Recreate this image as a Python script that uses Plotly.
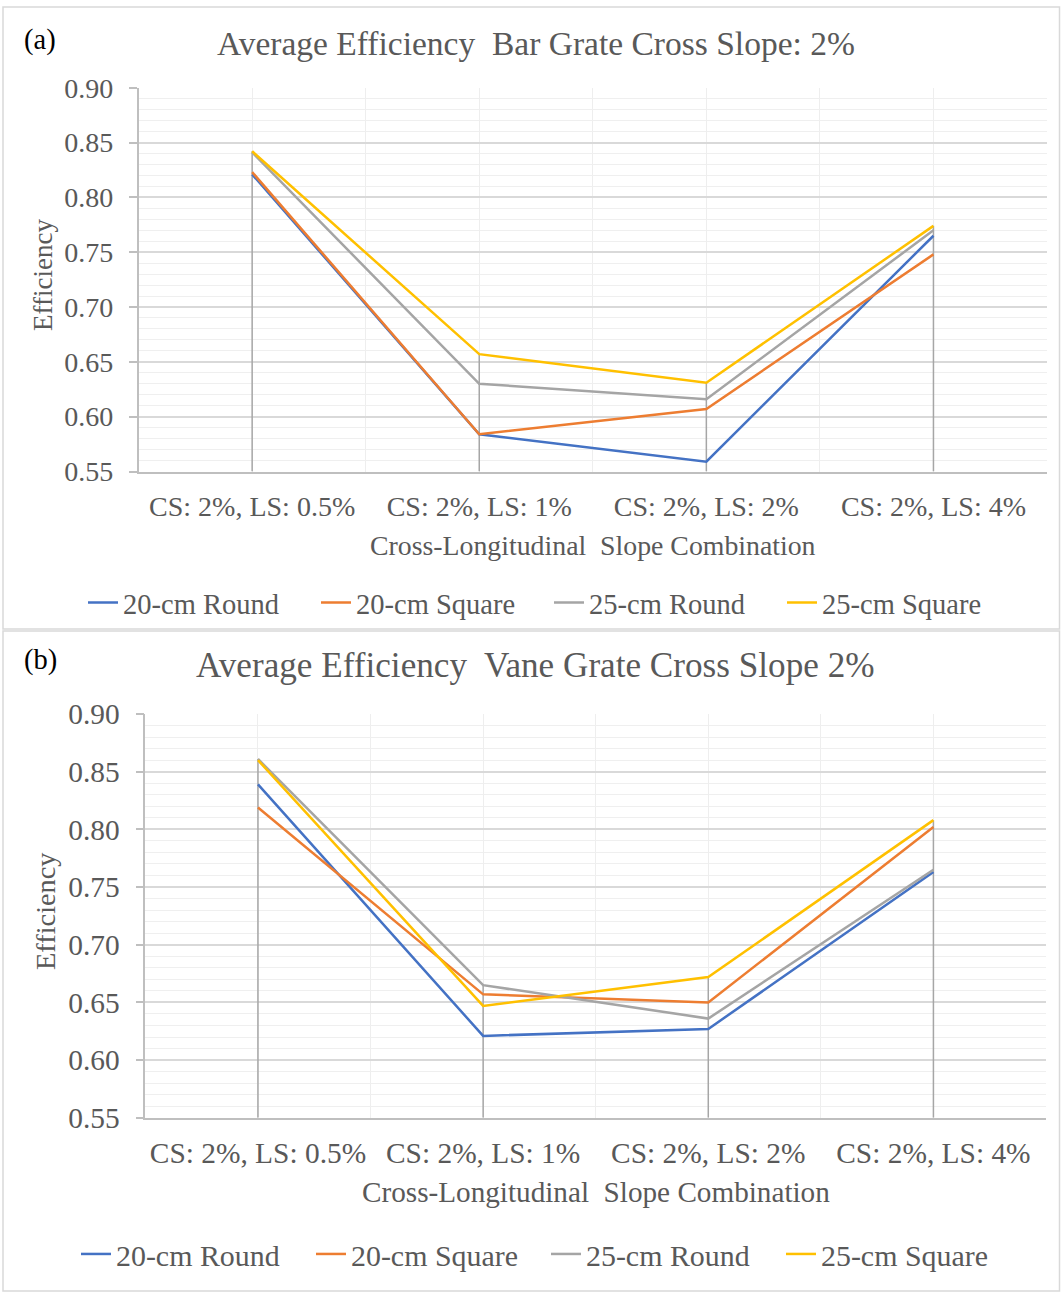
import plotly.graph_objects as go

W, H = 1061, 1294

categories = ["CS: 2%, LS: 0.5%", "CS: 2%, LS: 1%", "CS: 2%, LS: 2%", "CS: 2%, LS: 4%"]
series_names = ["20-cm Round", "20-cm Square", "25-cm Round", "25-cm Square"]
series_colors = ["#4472C4", "#ED7D31", "#A5A5A5", "#FFC000"]

# Panel (a): Bar grate
bar_round20 = [0.821, 0.584, 0.559, 0.765]
bar_square20 = [0.823, 0.584, 0.607, 0.748]
bar_round25 = [0.841, 0.630, 0.616, 0.770]
bar_square25 = [0.842, 0.657, 0.631, 0.774]

# Panel (b): Vane grate
vane_round20 = [0.839, 0.621, 0.627, 0.763]
vane_square20 = [0.819, 0.657, 0.650, 0.802]
vane_round25 = [0.861, 0.665, 0.636, 0.765]
vane_square25 = [0.860, 0.647, 0.672, 0.808]

y_ticks = [0.55, 0.60, 0.65, 0.70, 0.75, 0.80, 0.85, 0.90]

panels = [
    dict(data=[bar_round20, bar_square20, bar_round25, bar_square25],
         title="Average Efficiency  Bar Grate Cross Slope: 2%", tag="(a)",
         px=(138.6, 1047), py=(87.7, 471.5), xa="x", ya="y", legend="legend", s=1.0,
         title_y=43, tag_y=40, ytitle=(43, 275), xtitle=(593, 545), leg=(83, 603),
         box=(7, 629), entry=188, xstand=9),
    dict(data=[vane_round20, vane_square20, vane_round25, vane_square25],
         title="Average Efficiency  Vane Grate Cross Slope 2%", tag="(b)",
         px=(145.4, 1046), py=(714, 1117.8), xa="x2", ya="y2", legend="legend2", s=1.05,
         title_y=665, tag_y=660, ytitle=(45, 911), xtitle=(596, 1192), leg=(76, 1254),
         box=(631, 1291), entry=190, xstand=8),
]

FONT = "Liberation Serif"
TXT = "#595959"

fig = go.Figure()
layout = dict(width=W, height=H, margin=dict(l=0, r=0, t=0, b=0, autoexpand=False),
              paper_bgcolor="white", plot_bgcolor="white", showlegend=True,
              font=dict(family=FONT, color=TXT))
annotations = []
shapes = []

xs = list(range(len(categories)))

for i, p in enumerate(panels):
    s = p["s"]
    # drop lines from highest series value down to axis
    dx, dy = [], []
    for k in xs:
        dx += [k, k, None]
        dy += [y_ticks[0], max(ser[k] for ser in p["data"]), None]
    fig.add_trace(go.Scatter(x=dx, y=dy, mode="lines", line=dict(color="#a6a6a6", width=1.5),
                             showlegend=False, hoverinfo="skip", xaxis=p["xa"], yaxis=p["ya"]))
    for name, col, vals in zip(series_names, series_colors, p["data"]):
        fig.add_trace(go.Scatter(x=xs, y=vals, mode="lines", name=name,
                                 line=dict(color=col, width=2.5),
                                 xaxis=p["xa"], yaxis=p["ya"], legend=p["legend"]))
    sfx = "" if i == 0 else "2"
    layout["xaxis" + sfx] = dict(
        domain=[p["px"][0] / W, p["px"][1] / W], anchor="y" + sfx, automargin=False,
        range=[-0.5, 3.5], tickvals=xs, ticktext=categories, tickangle=0,
        showgrid=True, gridcolor="#eeeeee", gridwidth=1,
        minor=dict(tick0=-0.5, dtick=1, showgrid=True, gridcolor="#eeeeee", gridwidth=1, ticks=""),
        showline=True, linecolor="#bfbfbf", linewidth=1.5, ticks="",
        ticklabelstandoff=p["xstand"],
        tickfont=dict(family=FONT, size=28 * s, color=TXT), zeroline=False, fixedrange=True)
    layout["yaxis" + sfx] = dict(
        domain=[1 - p["py"][1] / H, 1 - p["py"][0] / H], anchor="x" + sfx, automargin=False,
        range=[0.55, 0.90], tickvals=y_ticks, tickformat=".2f",
        showgrid=True, gridcolor="#d9d9d9", gridwidth=1.5,
        minor=dict(dtick=0.01, tick0=0.55, showgrid=True, gridcolor="#efefef", gridwidth=1, ticks=""),
        showline=True, linecolor="#bfbfbf", linewidth=1.5,
        ticks="outside", ticklen=8, tickcolor="#bfbfbf", tickwidth=1.5,
        ticklabelstandoff=int(10 * s),
        tickfont=dict(family=FONT, size=28 * s, color=TXT), zeroline=False, fixedrange=True)
    layout[p["legend"]] = dict(
        orientation="h", x=p["leg"][0] / W, xanchor="left", y=1 - p["leg"][1] / H, yanchor="middle",
        font=dict(family=FONT, size=28.5 * s, color=TXT), bgcolor="rgba(0,0,0,0)",
        entrywidth=p["entry"], entrywidthmode="pixels", itemwidth=30, tracegroupgap=0)
    # panel border
    shapes.append(dict(type="rect", xref="paper", yref="paper", x0=3 / W, x1=1059.5 / W,
                       y0=1 - p["box"][1] / H, y1=1 - p["box"][0] / H,
                       line=dict(color="#d9d9d9", width=1.5), fillcolor="rgba(0,0,0,0)", layer="below"))
    annotations.append(dict(text=p["title"], x=535.5 / W, y=1 - p["title_y"] / H, xref="paper", yref="paper",
                            xanchor="center", yanchor="middle", showarrow=False,
                            font=dict(family=FONT, size=33.5 * s, color=TXT)))
    annotations.append(dict(text=p["tag"], x=22 / W, y=1 - p["tag_y"] / H, xref="paper", yref="paper",
                            xanchor="left", yanchor="middle", showarrow=False,
                            font=dict(family=FONT, size=28.5, color="#000000")))
    annotations.append(dict(text="Efficiency", x=p["ytitle"][0] / W, y=1 - p["ytitle"][1] / H,
                            xref="paper", yref="paper", textangle=-90, xanchor="center", yanchor="middle",
                            showarrow=False, font=dict(family=FONT, size=27 * s, color=TXT)))
    annotations.append(dict(text="Cross-Longitudinal  Slope Combination", x=p["xtitle"][0] / W,
                            y=1 - p["xtitle"][1] / H, xref="paper", yref="paper",
                            xanchor="center", yanchor="middle", showarrow=False,
                            font=dict(family=FONT, size=27.8 * s, color=TXT)))

layout["annotations"] = annotations
layout["shapes"] = shapes
fig.update_layout(**layout)
fig.write_html("out.html")
